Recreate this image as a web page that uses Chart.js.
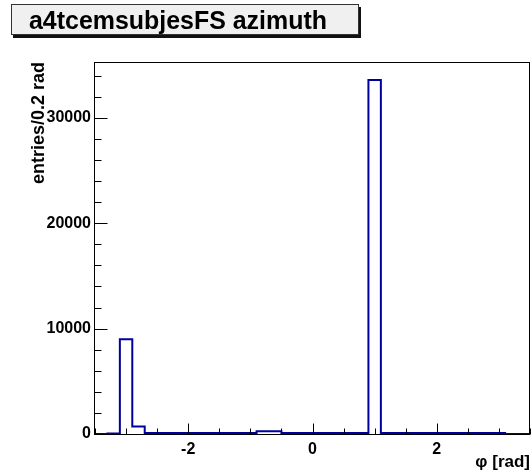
<!DOCTYPE html>
<html><head><meta charset="utf-8">
<script src="https://cdn.jsdelivr.net/npm/chart.js@4/dist/chart.umd.min.js"></script>
<style>html,body{margin:0;padding:0;background:#fff;}#wrap{width:531px;height:476px;}</style>
</head><body><div id="wrap"><canvas id="c" width="531" height="476"></canvas></div>
<script>
// ---- data ----
const titleText = "a4tcemsubjesFS azimuth";
const xTitle = "\u03C6 [rad]";
const yTitle = "entries/0.2 rad";
const binEdges = [-3.5,-3.3,-3.1,-2.9,-2.7,-2.5,-2.3,-2.1,-1.9,-1.7,-1.5,-1.3,-1.1,-0.9,-0.7,-0.5,-0.3,-0.1,
                  0.1,0.3,0.5,0.7,0.9,1.1,1.3,1.5,1.7,1.9,2.1,2.3,2.5,2.7,2.9,3.1,3.3,3.5];
const counts = [0,40,9000,700,90,90,90,90,90,90,90,90,90,250,250,90,90,90,
                90,90,90,90,33600,90,90,90,90,90,90,90,90,90,90,0,0];
const xTickLabels = [-2,0,2];
const yTickLabels = [0,10000,20000,30000];
const xRange = [-3.5,3.5];
const yRange = [0,35300];

// ---- build step outline points ----
const pts = [];
for (let i = 0; i < counts.length; i++) pts.push({x: binEdges[i], y: counts[i]});
pts.push({x: binEdges[binEdges.length-1], y: 0});

const FONT = "'Liberation Sans', Arial, Helvetica, sans-serif";

// size a bold font so that a text spans a wanted width
function fitSize(text, width, base) {
  const c = document.createElement('canvas').getContext('2d');
  c.font = "bold " + base + "px " + FONT;
  const w = c.measureText(text).width;
  return base * width / w;
}
const titleSize = fitSize(titleText, 298, 24);
const yTitleSize = fitSize(yTitle, 122, 17);

const decor = {
  id: 'decor',
  beforeDraw(chart) {
    const ctx = chart.ctx;
    ctx.save();
    ctx.fillStyle = '#fff';
    ctx.fillRect(0,0,chart.width,chart.height);
    // title box with shadow
    ctx.fillStyle = '#111';
    ctx.fillRect(13, 7, 348, 31);
    ctx.fillStyle = '#f0f0f0';
    ctx.fillRect(11, 5, 347, 30);
    ctx.strokeStyle = '#333';
    ctx.lineWidth = 1;
    ctx.strokeRect(11.5, 4.5, 347, 30);
    ctx.fillStyle = '#000';
    ctx.font = "bold " + titleSize.toFixed(2) + "px " + FONT;
    ctx.textBaseline = 'alphabetic';
    ctx.textAlign = 'left';
    ctx.fillText(titleText, 29, 29);
    ctx.restore();
  },
  afterDraw(chart) {
    const {ctx, chartArea: a, scales: {x, y}} = chart;
    ctx.save();
    ctx.strokeStyle = '#000';
    ctx.lineWidth = 1;
    const L = Math.round(a.left) - 0.5, R = Math.round(a.right) - 0.5;
    const T = Math.round(a.top) + 0.5, B = Math.round(a.bottom) + 0.5;
    ctx.strokeRect(L, T, R - L, B - T);
    ctx.beginPath();
    for (let v = xRange[0]; v <= xRange[1] + 1e-9; v += 0.5) {
      const px = Math.round(x.getPixelForValue(v)) + 0.5;
      const len = xTickLabels.some(t => Math.abs(t - v) < 1e-9) ? 11 : 6;
      ctx.moveTo(px, B); ctx.lineTo(px, B - len);
    }
    for (let v = 0; v <= yRange[1]; v += 2000) {
      const py = Math.round(y.getPixelForValue(v)) + 0.5;
      const len = yTickLabels.includes(v) ? 13 : 7;
      ctx.moveTo(L, py); ctx.lineTo(L + len, py);
    }
    ctx.stroke();
    ctx.restore();
  }
};

new Chart(document.getElementById('c'), {
  type: 'line',
  data: { datasets: [{
    data: pts,
    stepped: 'before',
    borderColor: '#00009c',
    borderWidth: 2,
    pointRadius: 0,
    fill: false,
    tension: 0
  }]},
  options: {
    responsive: false, animation: false, devicePixelRatio: 1,
    layout: { padding: { top: 62, right: 1, left: 0, bottom: 0 } },
    plugins: { legend: { display: false }, tooltip: { enabled: false }, title: { display: false } },
    scales: {
      x: {
        type: 'linear', min: xRange[0], max: xRange[1],
        grid: { display: false, drawTicks: false }, border: { display: false },
        afterBuildTicks: s => { s.ticks = xTickLabels.map(v => ({value: v})); },
        ticks: { font: { family: FONT, weight: 'bold', size: 16 }, color: '#000', padding: 6,
                 maxRotation: 0, autoSkip: false, callback: v => String(v) },
        title: { display: true, text: xTitle, align: 'end', color: '#000',
                 font: { family: FONT, weight: 'bold', size: 17 }, padding: { top: 0, bottom: 3 } },
        afterFit: s => { s.height = 42; }
      },
      y: {
        type: 'linear', min: yRange[0], max: yRange[1],
        grid: { display: false, drawTicks: false }, border: { display: false },
        afterBuildTicks: s => { s.ticks = yTickLabels.map(v => ({value: v})); },
        ticks: { font: { family: FONT, weight: 'bold', size: 16 }, color: '#000', padding: 4,
                 autoSkip: false, callback: v => String(v) },
        title: { display: true, text: yTitle, align: 'end', color: '#000',
                 font: { family: FONT, weight: 'bold', size: yTitleSize }, padding: { top: 28, bottom: 0 } },
        afterFit: s => { s.width = 95; }
      }
    }
  },
  plugins: [decor]
});
</script></body></html>
